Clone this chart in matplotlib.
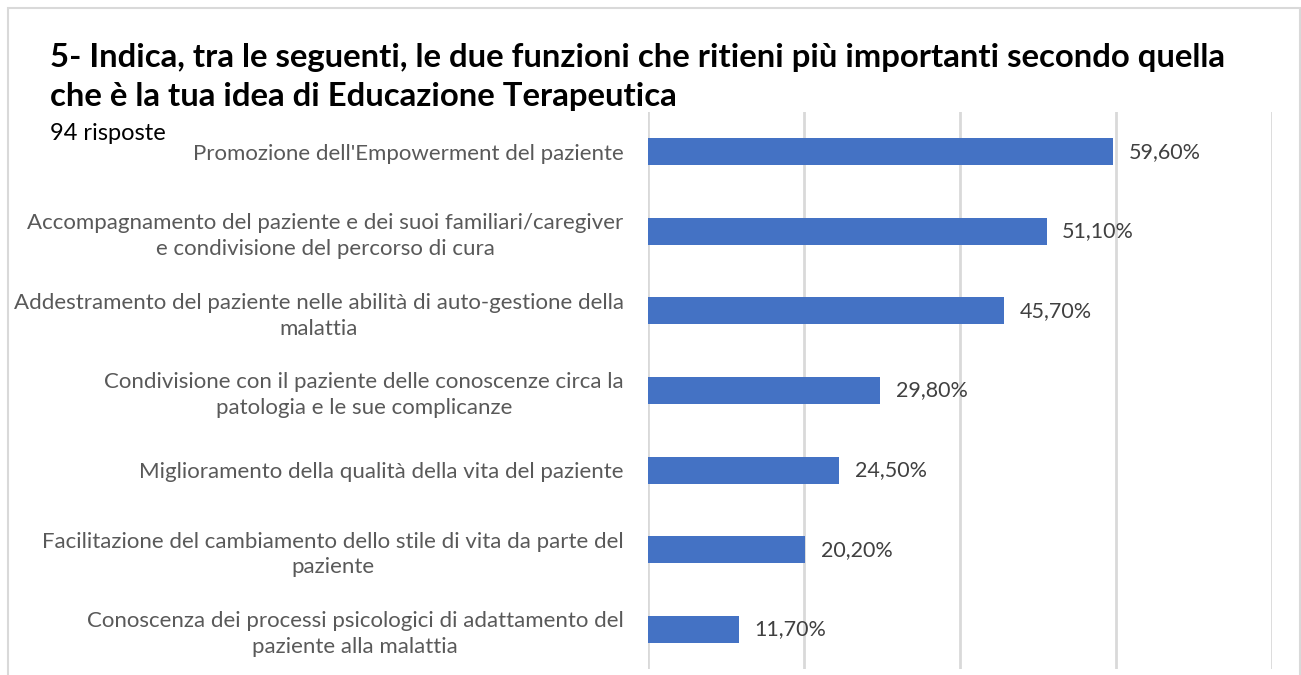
import matplotlib.pyplot as plt
from matplotlib.patches import Rectangle

plt.rcParams['font.family'] = ['Lato', 'DejaVu Sans']

# dati
categorie = [
    "Promozione dell'Empowerment del paziente",
    "Accompagnamento del paziente e dei suoi familiari/caregiver\ne condivisione del percorso di cura",
    "Addestramento del paziente nelle abilità di auto-gestione della\nmalattia",
    "Condivisione con il paziente delle conoscenze circa la\npatologia e le sue complicanze",
    "Miglioramento della qualità della vita del paziente",
    "Facilitazione del cambiamento dello stile di vita da parte del\npaziente",
    "Conoscenza dei processi psicologici di adattamento del\npaziente alla malattia",
]
percentuali = [59.6, 51.1, 45.7, 29.8, 24.5, 20.2, 11.7]
etichette = ["59,60%", "51,10%", "45,70%", "29,80%", "24,50%", "20,20%", "11,70%"]

fig = plt.figure(figsize=(13.01, 6.75), dpi=100)
ax = fig.add_axes([0.498, 0.009, 0.4797, 0.825])

pos = list(range(len(categorie)))
ax.barh(pos, percentuali, height=0.34, color="#4472c4", zorder=3)
for p, v, t in zip(pos, percentuali, etichette):
    ax.text(v + 2.0, p, t, va="center", ha="left", fontsize=15.5, color="#404040")

ax.set_xlim(0, 80)
ax.set_ylim(6.5, -0.5)
ax.set_xticks([0, 20, 40, 60, 80])
ax.xaxis.grid(True, color="#d9d9d9", linewidth=2, zorder=0)
ax.tick_params(axis="x", bottom=False, labelbottom=False)
ax.tick_params(axis="y", left=False, pad=14)
ax.set_yticks(pos)
ax.set_yticklabels(categorie, fontsize=16, color="#595959", multialignment="center", linespacing=1.35)
for s in ax.spines.values():
    s.set_visible(False)

fig.text(50 / 1301, 1 - 77 / 675,
         "5- Indica, tra le seguenti, le due funzioni che ritieni più importanti secondo quella\nche è la tua idea di Educazione Terapeutica",
         fontsize=23.7, fontweight="bold", color="black", va="center", ha="left", linespacing=1.42)
fig.text(50 / 1301, 1 - 133 / 675, "94 risposte", fontsize=17, color="black", va="center", ha="left")

fig.patches.append(Rectangle((8 / 1301, -0.1), 1292 / 1301, 1.1 - 8 / 675,
                             transform=fig.transFigure, fill=False,
                             edgecolor="#d9d9d9", linewidth=1.5))

fig.savefig("out.png", dpi=100)
